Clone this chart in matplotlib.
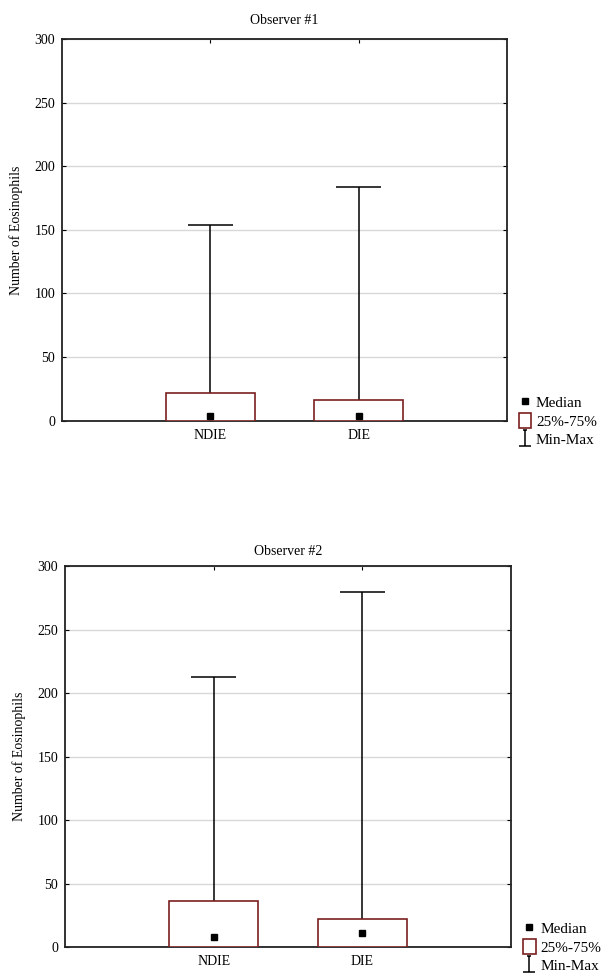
import matplotlib
matplotlib.use('Agg')
import matplotlib.pyplot as plt
from matplotlib.lines import Line2D
from matplotlib.patches import Patch
from matplotlib.path import Path

# Data (number of eosinophils)
groups = ['NDIE', 'DIE']
obs1_min = [0, 0]
obs1_q1 = [0, 0]
obs1_median = [4, 4]
obs1_q3 = [22, 16.5]
obs1_max = [154, 184]

obs2_min = [0, 0]
obs2_q1 = [0, 0]
obs2_median = [7.5, 11]
obs2_q3 = [36.5, 22]
obs2_max = [213, 280]

titles = ['Observer #1', 'Observer #2']
y_ticks = [0, 50, 100, 150, 200, 250, 300]

BOX_EDGE = '#7a1f1f'
GRID = '#d8d8d8'

plt.rcParams['font.family'] = ['Liberation Serif', 'DejaVu Serif']
plt.rcParams['font.size'] = 10

# minmax legend glyph: vertical stroke with a bottom bar
minmax_path = Path([(0, -1), (0, 1), (-0.7, -1), (0.7, -1), (-0.25, 1), (0.25, 1)],
                   [Path.MOVETO, Path.LINETO, Path.MOVETO, Path.LINETO, Path.MOVETO, Path.LINETO])


def draw_panel(ax, title, mins, q1, med, q3, mx, title_pad):
    pos = [1, 2]
    ax.set_axisbelow(True)
    ax.grid(True, axis='y', color=GRID, linewidth=1)
    ax.vlines(pos, q3, mx, color='black', linewidth=1.1, zorder=2)
    ax.hlines(mx, [p - 0.15 for p in pos], [p + 0.15 for p in pos], color='black', linewidth=1.1, zorder=2)
    ax.vlines(pos, mins, q1, color='black', linewidth=1.1, zorder=2)
    ax.bar(pos, [b - a for a, b in zip(q1, q3)], bottom=q1, width=0.6,
           facecolor='white', edgecolor=BOX_EDGE, linewidth=1.2, zorder=3)
    ax.plot(pos, med, linestyle='none', marker='s', markersize=5, color='black', zorder=4)

    ax.set_xlim(0, 3)
    ax.set_ylim(0, 300)
    ax.set_xticks(pos)
    ax.set_xticklabels(groups)
    ax.set_yticks(y_ticks)
    ax.tick_params(direction='in', length=3, top=True, right=True, labelsize=10, pad=6)
    ax.tick_params(axis='y', pad=5)
    for s in ax.spines.values():
        s.set_linewidth(1.3)
        s.set_color('#222222')
    ax.set_title(title, fontsize=10, pad=title_pad)
    ax.set_ylabel('Number of Eosinophils', fontsize=10, labelpad=8)

    handles = [
        Line2D([], [], linestyle='none', marker='s', markersize=5, color='black'),
        Patch(facecolor='white', edgecolor=BOX_EDGE, linewidth=1.2),
        Line2D([], [], linestyle='none', marker=minmax_path, markersize=12,
               markeredgewidth=1.1, color='black'),
    ]
    ax.legend(handles, ['Median', '25%-75%', 'Min-Max'], loc='center left',
              bbox_to_anchor=(1.0, 0.0), frameon=False, fontsize=11,
              handlelength=0.8, handleheight=1.1, handletextpad=0.3,
              labelspacing=0.2, borderaxespad=0.4)


fig = plt.figure(figsize=(6.02, 9.74), dpi=100)
ax1 = fig.add_axes([0.103, 0.568, 0.739, 0.392])
ax2 = fig.add_axes([0.108, 0.0277, 0.741, 0.391])

draw_panel(ax1, titles[0], obs1_min, obs1_q1, obs1_median, obs1_q3, obs1_max, 11)
draw_panel(ax2, titles[1], obs2_min, obs2_q1, obs2_median, obs2_q3, obs2_max, 8)

fig.savefig('out.png', dpi=100)
